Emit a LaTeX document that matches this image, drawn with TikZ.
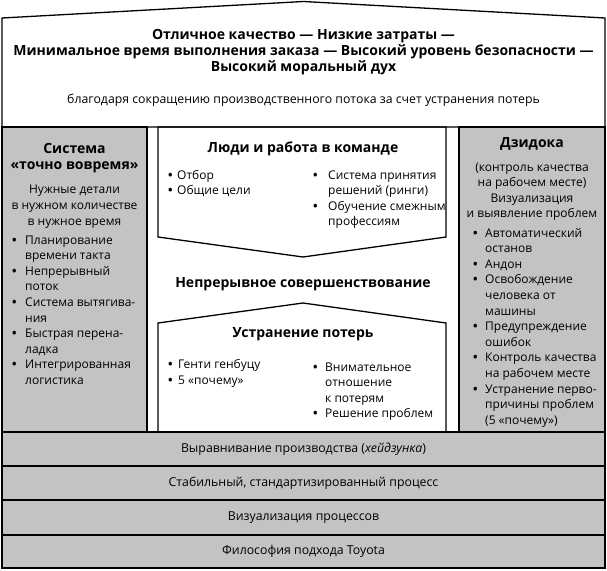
\documentclass[tikz,border=0pt]{standalone}
\usepackage{fontspec}
\setmainfont{Open Sans}
\definecolor{pgray}{RGB}{195,195,195}
\newcommand\bl[2]{\makebox[#1][l]{\textbf{\textbullet}}#2}
\newcommand\cont[2]{\makebox[#1][l]{}#2}
\begin{document}
\begin{tikzpicture}[x=1pt,y=-1pt,
  ln/.style={draw=black,line width=1.3pt,line join=miter},
  gfill/.style={ln,fill=pgray},
  tx/.style={inner sep=0pt,font=\fontsize{12}{15.6}\selectfont},
  hd/.style={inner sep=0pt,font=\fontsize{14}{16}\selectfont\bfseries},
  ctr/.style={align=center,anchor=base},
  lst/.style={tx,align=left,anchor=base west},
  band/.style={gfill,font=\fontsize{12.3}{15.6}\selectfont,anchor=center,text height=1.6ex,text depth=.3ex,minimum width=603pt}]
\useasboundingbox (0,0) rectangle (607,570);
% roof + top box
\draw[ln,fill=white] (2,127) -- (2,18) -- (303.5,1.5) -- (605,18) -- (605,127) -- cycle;
% pillars
\draw[gfill] (2,127) rectangle (147,432);
\draw[gfill] (459,127) rectangle (605,432);
% center shapes
\draw[ln] (158,127) -- (446,127) -- (446,237) -- (303,257) -- (158,237) -- cycle;
\draw[ln] (158,432) -- (158,323) -- (303,303) -- (446,323) -- (446,432);
% bands
\node[band,minimum height=34pt] (b1) at (303.5,449) {Выравнивание производства (\textit{хейдзунка})};
\node[band,minimum height=34pt] (b2) at (303.5,483) {Стабильный, стандартизированный процесс};
\node[band,minimum height=35pt] (b3) at (303.5,517.5) {Визуализация процессов};
\node[band,minimum height=33pt] (b4) at (303.5,551.5) {Философия подхода Toyota};
% top texts (base anchor = last line baseline)
\node[hd,ctr] (title) at (303.5,71) {Отличное качество — Низкие затраты —\\Минимальное время выполнения заказа — Высокий уровень безопасности —\\Высокий моральный дух};
\node[tx,ctr,font=\fontsize{12.3}{15.6}\selectfont] (via) at (303.5,103) {благодаря сокращению производственного потока за счет устранения потерь};
% left pillar
\node[hd,ctr] (jit) at (74.5,169) {Система\\«точно вовремя»};
\node[tx,ctr] (jitsub) at (74.5,225) {Нужные детали\\в нужном количестве\\в нужное время};
\node[lst] (jitlist) at (12,384.4) {\bl{13pt}{Планирование}\\\cont{13pt}{времени такта}\\\bl{13pt}{Непрерывный}\\\cont{13pt}{поток}\\\bl{13pt}{Система вытягива-}\\\cont{13pt}{ния}\\\bl{13pt}{Быстрая перена-}\\\cont{13pt}{ладка}\\\bl{13pt}{Интегрированная}\\\cont{13pt}{логистика}};
% right pillar
\node[hd,ctr] (jid) at (532,147) {Дзидока};
\node[tx,ctr] (jidsub) at (532,217.8) {(контроль качества\\на рабочем месте)\\Визуализация\\и выявление проблем};
\node[lst] (jidlist) at (473,424.2) {\bl{12pt}{Автоматический}\\\cont{12pt}{останов}\\\bl{12pt}{Андон}\\\bl{12pt}{Освобождение}\\\cont{12pt}{человека от}\\\cont{12pt}{машины}\\\bl{12pt}{Предупреждение}\\\cont{12pt}{ошибок}\\\bl{12pt}{Контроль качества}\\\cont{12pt}{на рабочем месте}\\\bl{12pt}{Устранение перво-}\\\cont{12pt}{причины проблем}\\\cont{12pt}{(5 «почему»)}};
% center
\node[hd,ctr] (team) at (303,152) {Люди и работа в команде};
\node[lst] (teamL) at (168,194.6) {\bl{9pt}{Отбор}\\\bl{9pt}{Общие цели}};
\node[lst] (teamR) at (313,225.8) {\bl{15pt}{Система принятия}\\\cont{15pt}{решений (ринги)}\\\bl{15pt}{Обучение смежным}\\\cont{15pt}{профессиям}};
\node[hd,ctr] (kaizen) at (303,287) {Непрерывное совершенствование};
\node[hd,ctr] (waste) at (303,337) {Устранение потерь};
\node[lst] (wasteL) at (168,384) {\bl{10pt}{Генти генбуцу}\\\bl{10pt}{5 «почему»}};
\node[lst] (wasteR) at (313,417.8) {\bl{12pt}{Внимательное}\\\cont{12pt}{отношение}\\\cont{12pt}{к потерям}\\\bl{12pt}{Решение проблем}};
\end{tikzpicture}
\end{document}
